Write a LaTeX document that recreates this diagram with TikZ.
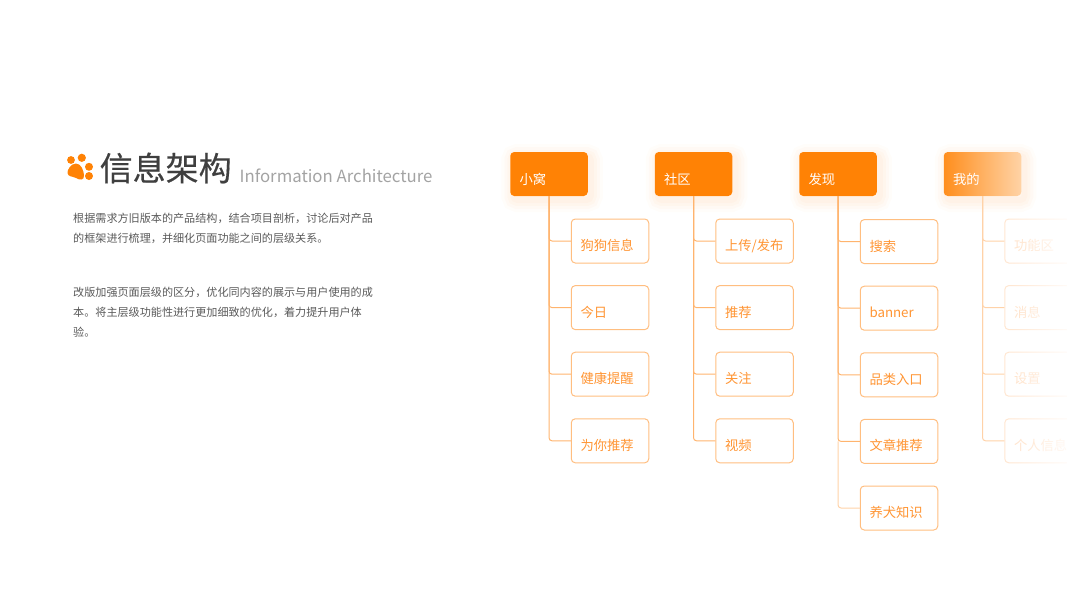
\documentclass[tikz,border=0pt]{standalone}
\usepackage{fontspec}
\setmainfont{Noto Sans CJK SC}
\usepackage{tikz}
\usetikzlibrary{fadings}

\definecolor{hdfill}{HTML}{FF8205}
\definecolor{hdpale}{HTML}{FFD3A6}
\definecolor{hdglow}{HTML}{FF9A3C}
\definecolor{boxline}{HTML}{FFBE80}
\definecolor{boxtext}{HTML}{FF9533}
\definecolor{linkline}{HTML}{FFB46E}
\definecolor{paleline}{HTML}{FFD2A8}
\definecolor{fadeline}{HTML}{FFE7D2}
\definecolor{fadetext}{HTML}{FFE2C8}
\definecolor{titletext}{HTML}{3F3F3F}
\definecolor{subtext}{HTML}{A3A3A3}
\definecolor{bodytext}{HTML}{595959}

\tikzfading[name=fadeout,left color=transparent!100,right color=transparent!0]

\begin{document}
\begin{tikzpicture}[x=1pt,y=-1pt,node distance=66.6pt]
        \useasboundingbox (0,0) rectangle (1067,600);
        \tikzstyle{head}=[rectangle,rounded corners=4pt,minimum width=77.5pt,text width=59pt,inner xsep=9pt,inner ysep=0pt,
            text height=32pt,text depth=12pt,font=\fontsize{13.3}{16}\selectfont,text=white,
            preaction={draw=hdglow,draw opacity=.025,line width=24pt,transform canvas={xshift=3pt,yshift=-4pt}},
            preaction={draw=hdglow,draw opacity=.03,line width=18pt,transform canvas={xshift=3pt,yshift=-4pt}},
            preaction={draw=hdglow,draw opacity=.035,line width=12pt,transform canvas={xshift=3pt,yshift=-4pt}},
            preaction={draw=hdglow,draw opacity=.04,line width=6pt,transform canvas={xshift=3pt,yshift=-4pt}}]
        \tikzstyle{item}=[rectangle,rounded corners=4pt,draw=boxline,line width=1pt,fill=white,minimum width=77.5pt,text width=59pt,
            inner xsep=9pt,inner ysep=0pt,text height=31.5pt,text depth=12.5pt,font=\fontsize{13.3}{16}\selectfont,text=boxtext]
        \tikzstyle{pale}=[draw=fadeline,text=fadetext]
        \tikzstyle{link}=[draw=linkline,line width=1pt,rounded corners=3pt,to path={(\tikztostart.west) -| (\tikztotarget)}]
        \tikzstyle{para}=[anchor=north west,align=left,inner sep=0pt,text=bodytext,font=\fontsize{11.1}{20}\selectfont]
        % heading
        \fill[hdfill] (71,160) circle (3.9) (81.8,157.8) circle (4.1) (89,166.8) circle (4) (89,176) circle (4);
        \fill[hdfill] (76,163.5) .. controls (71,163.5) and (67,170) .. (67.5,173) .. controls (68,177) and (72,176) .. (76,178)
            .. controls (80,180.5) and (84.5,180.5) .. (84,175) .. controls (83.5,170) and (81,163.5) .. (76,163.5);
        \node[anchor=west,inner sep=0pt,text=titletext,font=\fontsize{33}{36}\selectfont\addfontfeatures{FakeBold=.4}](title) at (99.5,168){信息架构};
        \node[anchor=base west,inner sep=0pt,xshift=7.5pt,yshift=-1.5pt,text=subtext,font=\fontsize{16.8}{20}\selectfont](subtitle) at (title.base east){Information Architecture};
        \node[para](para1) at (73,212.5){根据需求方旧版本的产品结构，结合项目剖析，讨论后对产品\\的框架进行梳理，并细化页面功能之间的层级关系。};
        \node[para](para2) at (73,286.5){改版加强页面层级的区分，优化同内容的展示与用户使用的成\\本。将主层级功能性进行更加细致的优化，着力提升用户体\\验。};
        % first column
        \node[head,fill=hdfill](hd1) at (549,174){小窝};
        \node[item,below of=hd1,xshift=61pt,yshift=-.4pt](a1){狗狗信息}
            edge [link] (hd1.south);
        \node[item,below of=a1](a2){今日}
            edge [link] (hd1.south);
        \node[item,below of=a2](a3){健康提醒}
            edge [link] (hd1.south);
        \node[item,below of=a3](a4){为你推荐}
            edge [link] (hd1.south);
        % second column
        \node[head,fill=hdfill,right of=hd1,node distance=144.5pt](hd2){社区};
        \node[item,below of=hd2,xshift=61pt,yshift=-.4pt](b1){上传/发布}
            edge [link] (hd2.south);
        \node[item,below of=b1](b2){推荐}
            edge [link] (hd2.south);
        \node[item,below of=b2](b3){关注}
            edge [link] (hd2.south);
        \node[item,below of=b3](b4){视频}
            edge [link] (hd2.south);
        % third column
        \node[head,fill=hdfill,right of=hd2,node distance=144.5pt](hd3){发现};
        \node[item,below of=hd3,xshift=61pt,yshift=-1pt](c1){搜索}
            edge [link] (hd3.south);
        \node[item,below of=c1](c2){banner}
            edge [link] (hd3.south);
        \node[item,below of=c2](c3){品类入口}
            edge [link] (hd3.south);
        \node[item,below of=c3](c4){文章推荐}
            edge [link] (hd3.south);
        \node[item,below of=c4](c5){养犬知识}
            edge [link,draw=paleline] (c4.west -| hd3.south);
        % fourth column
        \node[head,left color=hdfill!85!hdpale,right color=hdpale,right of=hd3,node distance=144.5pt](hd4){我的};
        \node[item,pale,below of=hd4,xshift=61pt,yshift=-.4pt](d1){功能区}
            edge [link,draw=paleline] (hd4.south);
        \node[item,pale,below of=d1](d2){消息}
            edge [link,draw=paleline] (hd4.south);
        \node[item,pale,below of=d2](d3){设置}
            edge [link,draw=paleline] (hd4.south);
        \node[item,pale,below of=d3](d4){个人信息}
            edge [link,draw=paleline] (hd4.south);
        % right edge of the page
        \fill[white,path fading=fadeout] (1010,212) rectangle (1080,470);
\end{tikzpicture}
\end{document}
